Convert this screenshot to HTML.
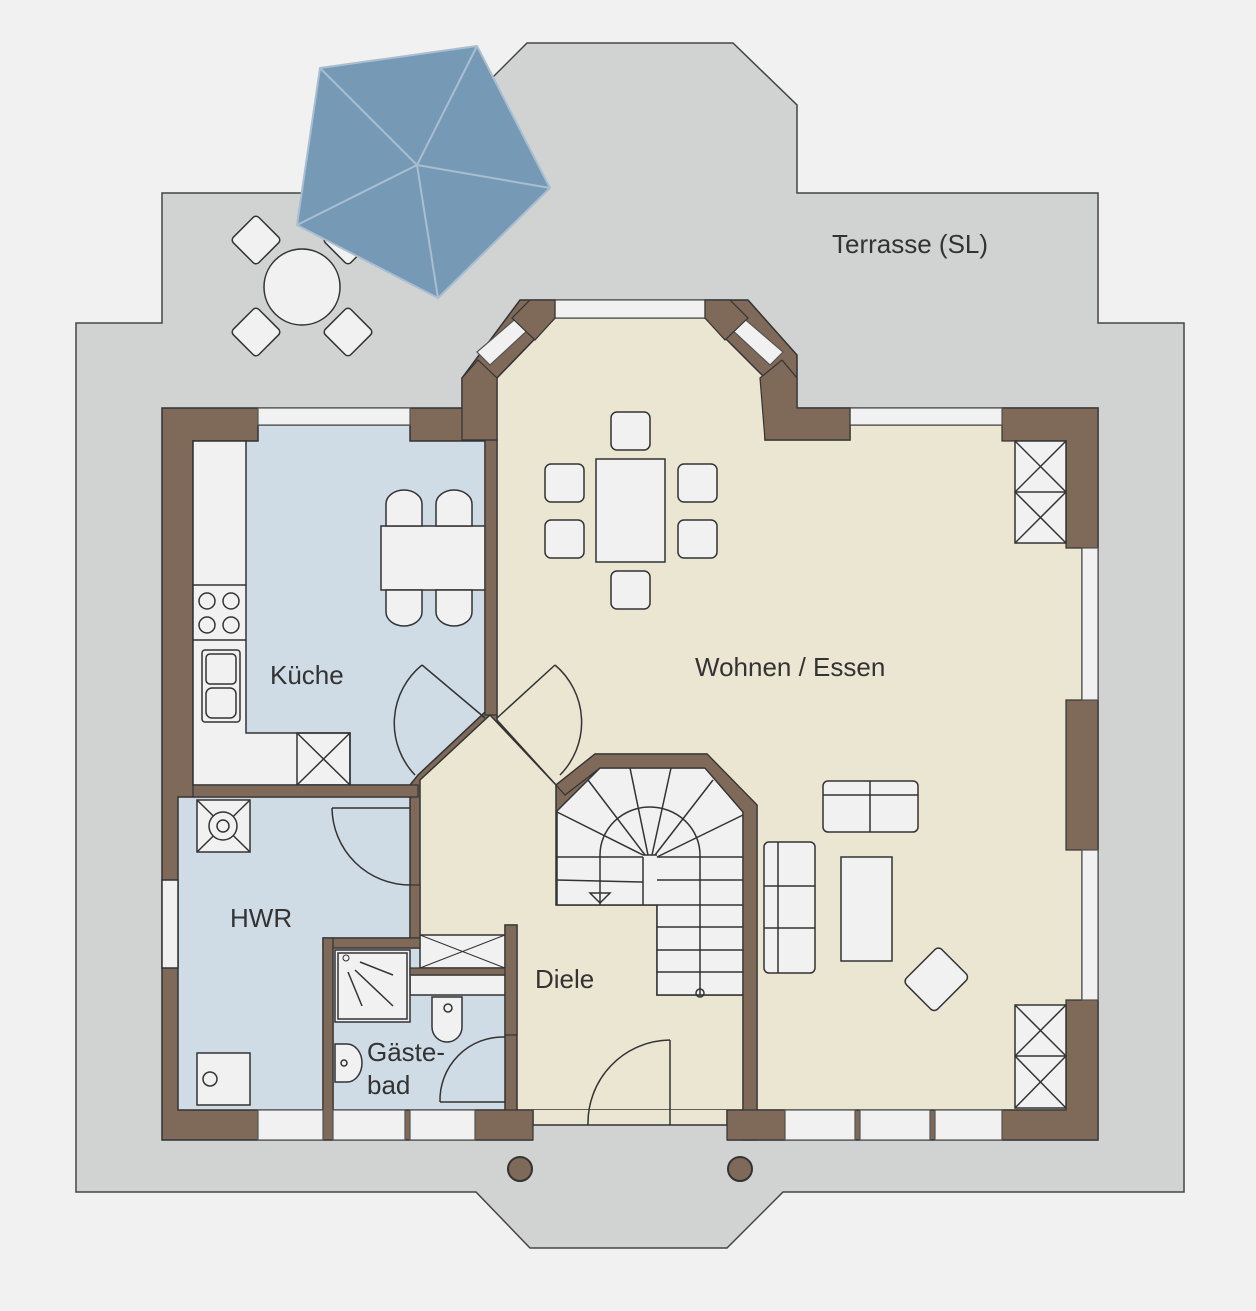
<!DOCTYPE html>
<html><head><meta charset="utf-8"><style>
html,body{margin:0;padding:0;background:#f1f1f1;}
svg{display:block;}
text{font-family:"Liberation Sans","DejaVu Sans",sans-serif;fill:#333;}
</style></head><body>
<svg width="1256" height="1311" viewBox="0 0 1256 1311" xmlns="http://www.w3.org/2000/svg">
<rect width="1256" height="1311" fill="#f1f1f1"/>
<!-- terrace -->
<polygon points="76,323 162,323 162,193 465,193 465,105 527,43 733,43 797,105 797,193 1098,193 1098,323 1184,323 1184,1192 783,1192 727,1248 530,1248 476,1192 76,1192" fill="#d1d3d2" stroke="#444" stroke-width="1.5"/>
<text x="832" y="253" font-size="26">Terrasse (SL)</text>
<!-- outdoor table -->
<g fill="#f1f1f1" stroke="#333" stroke-width="1.5">
<circle cx="302" cy="287" r="38"/>
<rect x="238" y="222" width="36" height="36" rx="4" transform="rotate(45 256 240)"/>
<rect x="330" y="222" width="36" height="36" rx="4" transform="rotate(45 348 240)"/>
<rect x="238" y="314" width="36" height="36" rx="4" transform="rotate(45 256 332)"/>
<rect x="330" y="314" width="36" height="36" rx="4" transform="rotate(45 348 332)"/>
</g>
<!-- umbrella -->
<polygon points="320,68 477,46 550,188 438,298 297,225" fill="#7699b6" stroke="#a9bed0" stroke-width="2"/>
<g stroke="#a9bed0" stroke-width="2"><line x1="417" y1="165" x2="320" y2="68"/><line x1="417" y1="165" x2="477" y2="46"/><line x1="417" y1="165" x2="550" y2="188"/><line x1="417" y1="165" x2="438" y2="298"/><line x1="417" y1="165" x2="297" y2="225"/></g>
<!-- house base walls -->
<polygon points="162,408 462,408 462,378 520,300 748,300 797,355 797,408 1098,408 1098,1140 162,1140" fill="#7f6a5a" stroke="#333" stroke-width="1.5"/>
<!-- wohnen -->
<polygon points="497,378 555,318 705,318 765,378 765,440 850,440 850,425 1082,425 1082,1110 757,1110 757,805 707,754 595,754 556,785 497,720" fill="#ebe6d2" stroke="#333" stroke-width="1.5"/>
<!-- diele -->
<polygon points="420,780 490,715 556,785 556,905 657,905 657,995 743,995 743,1110 517,1110 517,925 505,925 505,938 420,938" fill="#ebe6d2" stroke="#333" stroke-width="1.5"/>
<rect x="533" y="1110" width="194" height="15" fill="#ebe6d2"/>
<rect x="533" y="1125" width="194" height="17" fill="#d1d3d2"/>
<line x1="533" y1="1125" x2="727" y2="1125" stroke="#333" stroke-width="1.5"/>
<line x1="533" y1="1110" x2="533" y2="1125" stroke="#333" stroke-width="1.5"/>
<line x1="727" y1="1110" x2="727" y2="1125" stroke="#333" stroke-width="1.5"/>
<!-- kitchen -->
<polygon points="193,441 258,441 258,425 410,425 410,441 485,441 485,712 418,775 410,785 193,785" fill="#cfdce6" stroke="#333" stroke-width="1.5"/>
<polygon points="193,441 246,441 246,733 350,733 350,785 193,785" fill="#f1f1f1" stroke="#333" stroke-width="1.5"/>
<line x1="193" y1="585" x2="246" y2="585" stroke="#333" stroke-width="1.5"/>
<line x1="193" y1="640" x2="246" y2="640" stroke="#333" stroke-width="1.5"/>
<g fill="none" stroke="#333" stroke-width="1.5">
<circle cx="207" cy="601" r="8"/><circle cx="231" cy="601" r="8"/><circle cx="207" cy="625" r="8"/><circle cx="231" cy="625" r="8"/>
<rect x="202" y="650" width="38" height="72" rx="3"/><rect x="206" y="654" width="30" height="30" rx="4"/><rect x="206" y="688" width="30" height="30" rx="6"/>
<rect x="297" y="733" width="53" height="52"/><line x1="297" y1="733" x2="350" y2="785"/><line x1="350" y1="733" x2="297" y2="785"/>
</g>
<text x="270" y="684" font-size="26">Küche</text>
<!-- kitchen table -->
<g fill="#f1f1f1" stroke="#333" stroke-width="1.5">
<rect x="381" y="526" width="104" height="64"/>
<path d="M386,526 v-22 a18,14 0 0 1 36,0 v22z"/><path d="M436,526 v-22 a18,14 0 0 1 36,0 v22z"/>
<path d="M386,590 v22 a18,14 0 0 0 36,0 v-22z"/><path d="M436,590 v22 a18,14 0 0 0 36,0 v-22z"/>
</g>
<!-- HWR -->
<polygon points="178,797 410,797 410,938 323,938 323,1110 178,1110" fill="#cfdce6" stroke="#333" stroke-width="1.5"/>
<rect x="162" y="880" width="16" height="88" fill="#f1f1f1" stroke="#333" stroke-width="1.5"/>
<g fill="#f1f1f1" stroke="#333" stroke-width="1.5">
<rect x="197" y="800" width="53" height="52"/><line x1="197" y1="800" x2="250" y2="852"/><line x1="250" y1="800" x2="197" y2="852"/><circle cx="223" cy="826" r="14"/><circle cx="223" cy="826" r="6"/>
<rect x="197" y="1053" width="53" height="52"/><circle cx="210" cy="1079" r="7"/>
</g>
<text x="230" y="927" font-size="26">HWR</text>
<path d="M332,808 A78,78 0 0 0 410,885" fill="none" stroke="#333" stroke-width="1.5"/><line x1="332" y1="808" x2="410" y2="808" stroke="#333" stroke-width="1.5"/>
<!-- gaestebad -->
<rect x="333" y="948" width="172" height="162" fill="#cfdce6" stroke="#333" stroke-width="1.5"/>
<rect x="420" y="935" width="85" height="33" fill="#f1f1f1" stroke="#333" stroke-width="1.5"/>
<line x1="420" y1="935" x2="505" y2="968" stroke="#333"/><line x1="505" y1="935" x2="420" y2="968" stroke="#333"/>
<rect x="410" y="975" width="95" height="20" fill="#f1f1f1" stroke="#333" stroke-width="1.5"/>
<g fill="#f1f1f1" stroke="#333" stroke-width="1.5">
<rect x="335" y="950" width="75" height="72"/><rect x="338" y="953" width="69" height="66"/>
<path d="M432,997 h30 v30 a15,15 0 0 1 -30,0z"/><circle cx="448" cy="1008" r="4"/>
<path d="M335,1044 h12 a15,19 0 0 1 0,38 h-12z"/><circle cx="344" cy="1063" r="3"/>
</g>
<g stroke="#333" stroke-width="1.5"><line x1="360" y1="962" x2="393" y2="975"/><line x1="355" y1="970" x2="393" y2="1006"/><line x1="348" y1="972" x2="362" y2="1006"/></g>
<circle cx="346" cy="958" r="3" fill="none" stroke="#333"/>
<text x="367" y="1061" font-size="26">Gäste-</text>
<text x="367" y="1094" font-size="26">bad</text>
<path d="M440,1102 A63,63 0 0 1 505,1037" fill="none" stroke="#333" stroke-width="1.5"/><line x1="440" y1="1102" x2="505" y2="1102" stroke="#333" stroke-width="1.5"/>
<text x="535" y="988" font-size="26">Diele</text>
<!-- stairs -->
<polygon points="557,811 600,768 705,768 743,812 743,995 657,995 657,905 557,905" fill="#f1f1f1" stroke="#333" stroke-width="1.5"/>
<g stroke="#333" stroke-width="1.5" fill="none">
<path d="M600,905 v-50 a50,48 0 0 1 100,0 v140"/>
<line x1="557" y1="880" x2="643" y2="882"/><line x1="557" y1="857" x2="643" y2="857"/>
<line x1="657" y1="880" x2="743" y2="880"/><line x1="657" y1="857" x2="743" y2="857"/>
<line x1="657" y1="905" x2="743" y2="905"/><line x1="657" y1="927" x2="743" y2="927"/><line x1="657" y1="950" x2="743" y2="950"/><line x1="657" y1="972" x2="743" y2="972"/>
<line x1="643" y1="855" x2="557" y2="812"/><line x1="645" y1="855" x2="588" y2="780"/><line x1="648" y1="855" x2="630" y2="768"/><line x1="652" y1="855" x2="671" y2="768"/><line x1="655" y1="855" x2="713" y2="780"/><line x1="657" y1="857" x2="743" y2="815"/>
<line x1="643" y1="857" x2="643" y2="905"/><line x1="657" y1="855" x2="643" y2="855"/>
<path d="M590,893 h20 l-10,10z"/><circle cx="700" cy="993" r="4"/>
</g>
<!-- walls over rooms -->
<g fill="#7f6a5a" stroke="#333" stroke-width="1.2">
<rect x="485" y="440" width="12" height="275"/>
<rect x="193" y="785" width="225" height="12"/>
<rect x="410" y="885" width="10" height="53"/>
<rect x="323" y="938" width="97" height="10"/>
<rect x="323" y="938" width="10" height="202"/>
<rect x="410" y="968" width="97" height="7"/>
<rect x="505" y="925" width="12" height="110"/>
<polygon points="556,785 595,754 707,754 757,805 757,1140 743,1140 743,812 705,768 600,768 565,795"/>
<rect x="475" y="1110" width="58" height="30"/>
<rect x="727" y="1110" width="58" height="30"/>
<rect x="1066" y="700" width="32" height="150"/>
<polygon points="1002,408 1098,408 1098,548 1066,548 1066,441 1002,441"/>
<polygon points="1066,1000 1098,1000 1098,1140 1002,1140 1002,1110 1066,1110"/>
</g>
<!-- windows -->
<g fill="#f1f1f1" stroke="#555" stroke-width="1.2">
<rect x="258" y="408" width="152" height="17"/>
<rect x="555" y="300" width="150" height="18"/>
<rect x="850" y="408" width="152" height="17"/>
<rect x="1082" y="548" width="16" height="152"/>
<rect x="1082" y="850" width="16" height="150"/>
<rect x="258" y="1110" width="65" height="30"/><rect x="333" y="1110" width="72" height="30"/><rect x="410" y="1110" width="65" height="30"/>
<rect x="785" y="1110" width="70" height="30"/><rect x="860" y="1110" width="70" height="30"/><rect x="935" y="1110" width="67" height="30"/>
<polygon points="477,352 520,315 530,328 490,365"/>
<polygon points="740,315 783,352 770,365 730,328"/>
</g>
<g fill="#7f6a5a" stroke="#333" stroke-width="1.2">
<polygon points="512,318 530,300 555,300 555,318 535,340"/>
<polygon points="705,300 730,300 748,318 725,340 705,318"/>
<polygon points="462,378 478,360 497,378 497,440 462,440"/>
<polygon points="760,378 782,360 797,378 797,408 850,408 850,440 765,440"/>
</g>
<!-- chimneys -->
<g fill="#f1f1f1" stroke="#333" stroke-width="1.5">
<rect x="1015" y="441" width="51" height="102"/><line x1="1015" y1="492" x2="1066" y2="492"/><line x1="1015" y1="441" x2="1066" y2="492"/><line x1="1066" y1="441" x2="1015" y2="492"/><line x1="1015" y1="492" x2="1066" y2="543"/><line x1="1066" y1="492" x2="1015" y2="543"/>
<rect x="1015" y="1005" width="51" height="103"/><line x1="1015" y1="1056" x2="1066" y2="1056"/><line x1="1015" y1="1005" x2="1066" y2="1056"/><line x1="1066" y1="1005" x2="1015" y2="1056"/><line x1="1015" y1="1056" x2="1066" y2="1108"/><line x1="1066" y1="1056" x2="1015" y2="1108"/>
</g>
<!-- doors -->
<g fill="none" stroke="#333" stroke-width="1.5">
<line x1="485" y1="718" x2="422" y2="665"/><path d="M422,665 A75,75 0 0 0 415,775"/>
<line x1="497" y1="718" x2="555" y2="665"/><path d="M555,665 A75,75 0 0 1 560,775"/>
<line x1="670" y1="1040" x2="670" y2="1125"/><path d="M670,1040 A83,83 0 0 0 588,1125"/>
</g>
<!-- dining -->
<g fill="#f1f1f1" stroke="#333" stroke-width="1.5">
<rect x="596" y="459" width="69" height="103"/>
<rect x="611" y="412" width="39" height="38" rx="6"/><rect x="611" y="571" width="39" height="38" rx="6"/>
<rect x="545" y="464" width="39" height="38" rx="6"/><rect x="545" y="520" width="39" height="38" rx="6"/>
<rect x="678" y="464" width="39" height="38" rx="6"/><rect x="678" y="520" width="39" height="38" rx="6"/>
</g>
<text x="695" y="676" font-size="26">Wohnen / Essen</text>
<!-- living -->
<g fill="#f1f1f1" stroke="#333" stroke-width="1.5">
<rect x="823" y="781" width="95" height="51" rx="5"/><line x1="870" y1="781" x2="870" y2="832"/><line x1="823" y1="795" x2="918" y2="795"/>
<rect x="764" y="842" width="51" height="131" rx="5"/><line x1="778" y1="842" x2="778" y2="973"/><line x1="764" y1="886" x2="815" y2="886"/><line x1="764" y1="928" x2="815" y2="928"/>
<rect x="841" y="857" width="51" height="104"/>
<rect x="912" y="957" width="50" height="44" rx="5" transform="rotate(-45 937 980)"/>
</g>
<!-- entrance posts -->
<g fill="#7f6a5a" stroke="#333" stroke-width="2"><circle cx="520" cy="1169" r="12"/><circle cx="740" cy="1169" r="12"/></g>
</svg>
</body></html>
